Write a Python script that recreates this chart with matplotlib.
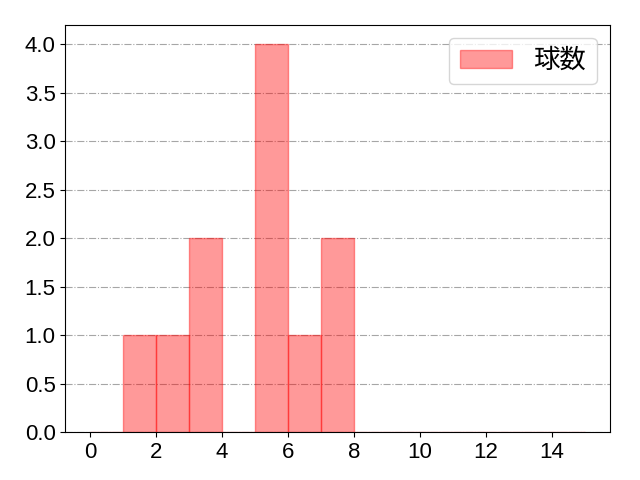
import matplotlib
matplotlib.use("Agg")
import matplotlib.pyplot as plt
import numpy as np

plt.rcParams['font.family'] = ['Liberation Sans', 'Noto Sans CJK JP', 'DejaVu Sans']
plt.rcParams['font.size'] = 16

bin_edges = list(range(0, 16))
counts = [0, 1, 1, 2, 0, 4, 1, 2, 0, 0, 0, 0, 0, 0, 0]
label = "球数"

fig, ax = plt.subplots(figsize=(6.4, 4.8), dpi=100)
ax.hist(bin_edges[:-1], bins=bin_edges, weights=counts, color='red', alpha=0.4,
        edgecolor='red', linewidth=1, label=label)
ax.grid(axis='y', linestyle='-.', color='gray', alpha=0.7)
ax.set_axisbelow(True)
ax.set_xticks(range(0, 16, 2))
ax.set_yticks(np.arange(0, 4.01, 0.5))
ax.tick_params(labelsize=16)
ax.legend(loc='upper right', fontsize=19)
fig.subplots_adjust(left=0.102, right=0.953, bottom=0.1, top=0.948)
fig.savefig("out.png")
